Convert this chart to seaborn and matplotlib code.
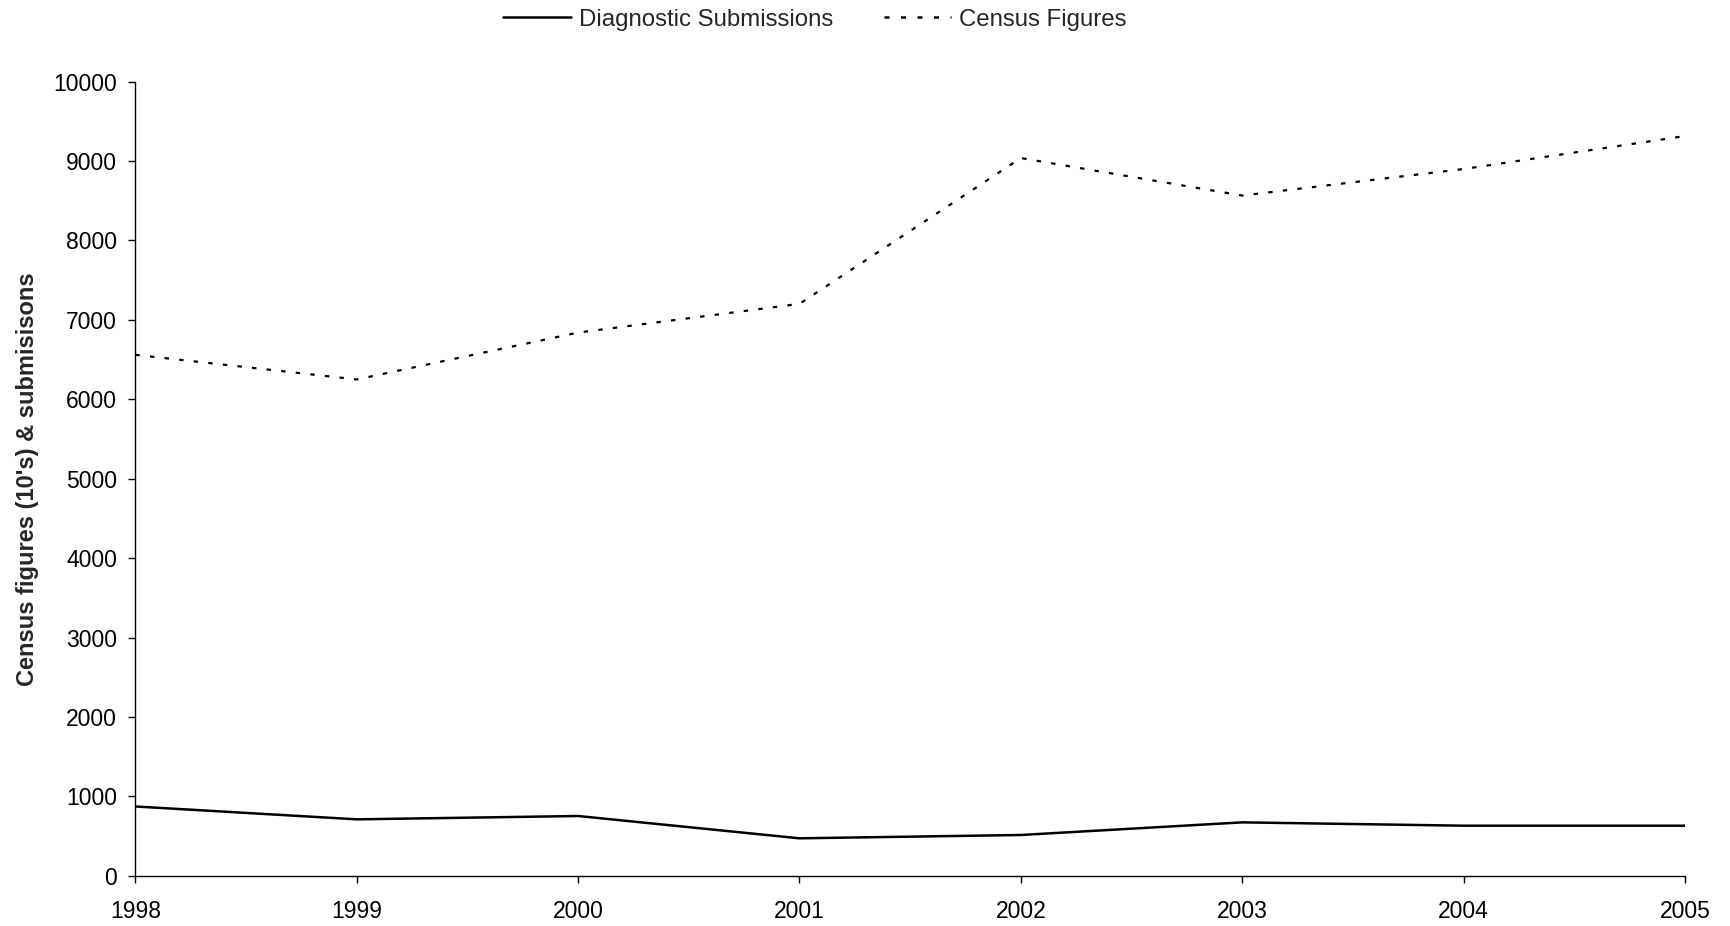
import pandas as pd
import seaborn as sns
import matplotlib.pyplot as plt

# data
years = [1998, 1999, 2000, 2001, 2002, 2003, 2004, 2005]
diagnostic_submissions = [872, 710, 752, 471, 513, 672, 630, 630]
census_figures = [6560, 6250, 6840, 7202, 9038, 8566, 8900, 9315]
y_ticks = list(range(0, 10001, 1000))

sns.set_style("ticks")
plt.rcParams['font.family'] = ['Liberation Sans', 'DejaVu Sans']

df = pd.DataFrame({
    "year": years * 2,
    "value": diagnostic_submissions + census_figures,
    "series": ["Diagnostic Submissions"] * len(years) + ["Census Figures"] * len(years),
})

fig = plt.figure(figsize=(17.31, 9.26), dpi=100)
ax = fig.add_axes([0.0782, 0.0543, 0.8952, 0.8575])

sns.lineplot(
    data=df, x="year", y="value", hue="series", style="series",
    palette={"Diagnostic Submissions": "black", "Census Figures": "black"},
    dashes={"Diagnostic Submissions": "", "Census Figures": (2, 4.6)},
    linewidth=1.8, ax=ax,
)
ax.lines[1].set_linewidth(1.6)

ax.set_xlim(1998, 2005)
ax.set_ylim(0, 10000)
ax.set_xticks(years)
ax.set_xticklabels([str(y) for y in years])
ax.set_yticks(y_ticks)
ax.set_yticklabels([str(v) for v in y_ticks])
ax.tick_params(axis="both", labelsize=16.5, colors="black")
ax.tick_params(axis="y", length=4.8, width=1, pad=8.4)
ax.tick_params(axis="x", length=4.8, width=1, pad=13)

ax.set_xlabel("")
ax.set_ylabel("Census figures (10's) & submisisons", fontsize=17, fontweight="bold")
ax.yaxis.set_label_coords(-0.0625, 0.5)

for side in ["top", "right"]:
    ax.spines[side].set_visible(False)
for side in ["left", "bottom"]:
    ax.spines[side].set_color("black")
    ax.spines[side].set_linewidth(1)

handles, labels = ax.get_legend_handles_labels()
ax.legend(
    handles, labels, ncol=2, frameon=False, fontsize=17.3,
    loc="center", bbox_to_anchor=(0.4386, 1.078),
    handlelength=2.8, handletextpad=0.35, columnspacing=2.1,
)

plt.savefig("out.png", dpi=100)
